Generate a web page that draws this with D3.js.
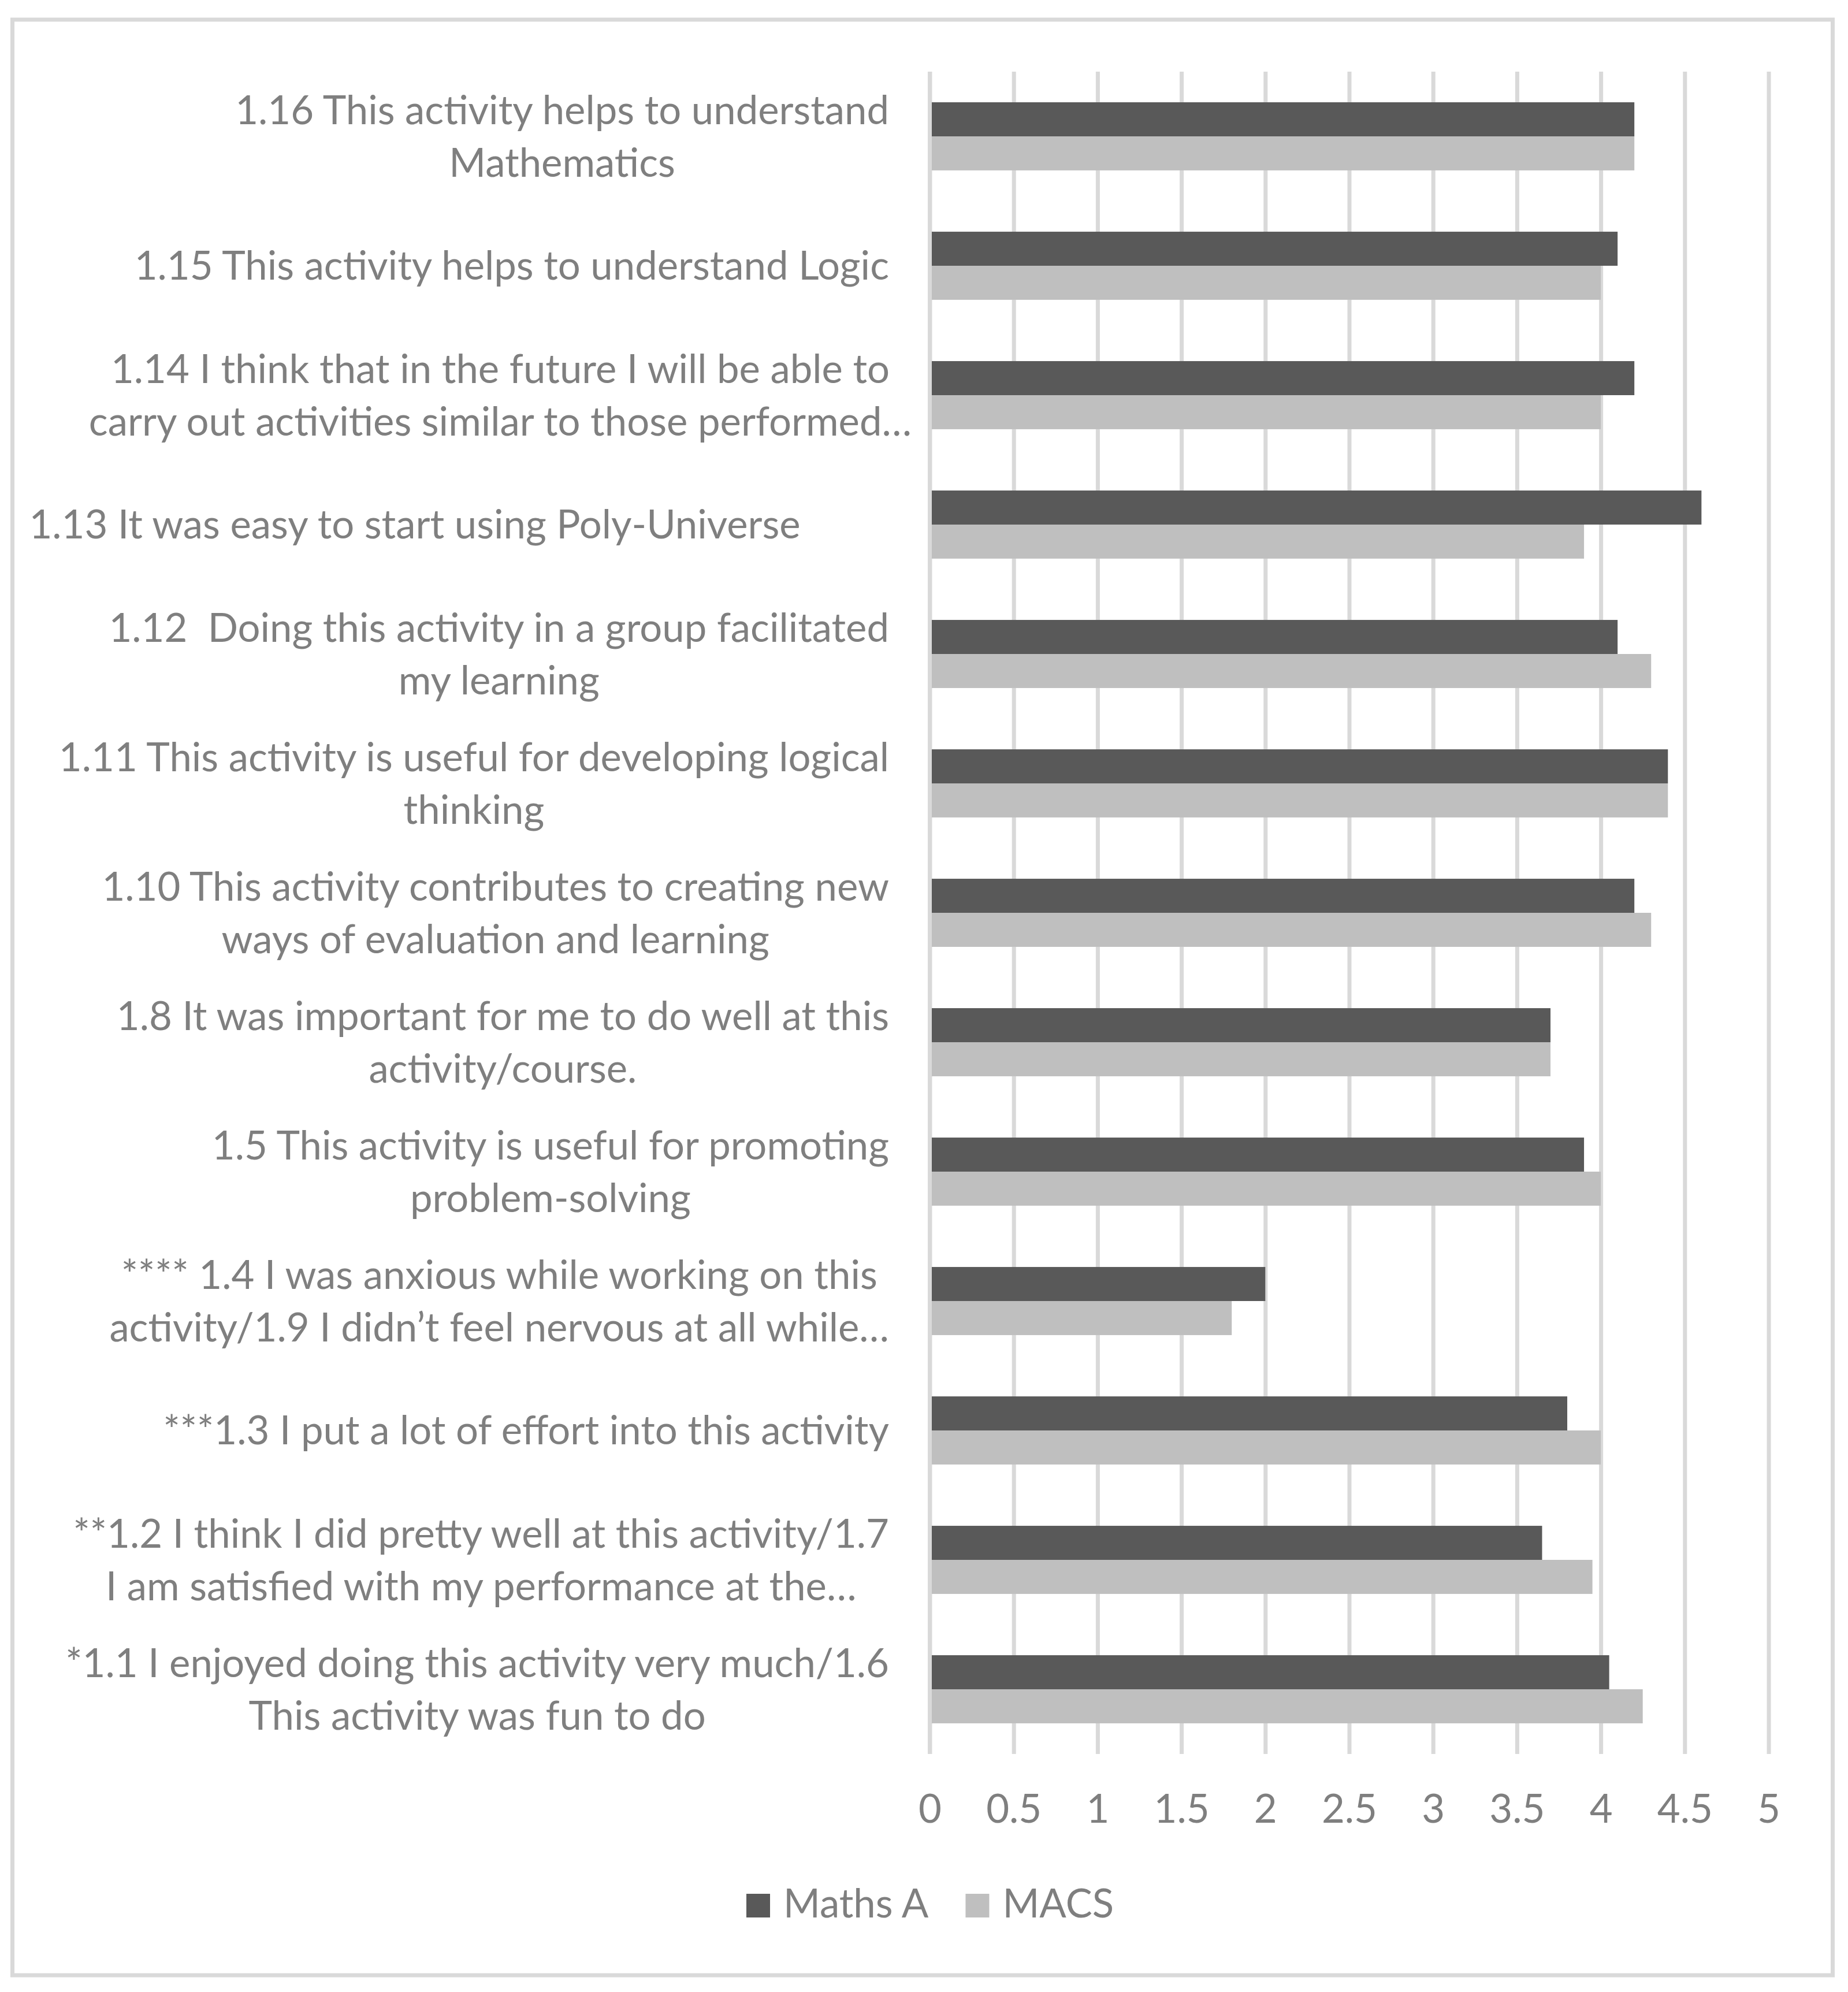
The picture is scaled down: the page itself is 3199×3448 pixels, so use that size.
<!DOCTYPE html>
<html>
<head>
<meta charset="utf-8">
<script src="https://cdn.jsdelivr.net/npm/d3@7"></script>
<style>
  body { margin: 0; background: #ffffff; }
  text { white-space: pre; }
</style>
</head>
<body>
<svg id="chart" width="3199" height="3448"></svg>
<script>
// ---------------- DATA ----------------
const categories = ["1.16", "1.15", "1.14", "1.13", "1.12", "1.11", "1.10", "1.8", "1.5", "1.4", "1.3", "1.2", "1.1"];
const categoryLabels = [
  ["1.16 This activity helps to understand", "Mathematics"],
  ["1.15 This activity helps to understand Logic"],
  ["1.14 I think that in the future I will be able to", "carry out activities similar to those performed…"],
  ["1.13 It was easy to start using Poly-Universe"],
  ["1.12  Doing this activity in a group facilitated", "my learning"],
  ["1.11 This activity is useful for developing logical", "thinking"],
  ["1.10 This activity contributes to creating new", "ways of evaluation and learning"],
  ["1.8 It was important for me to do well at this", "activity/course."],
  ["1.5 This activity is useful for promoting", "problem-solving"],
  ["**** 1.4 I was anxious while working on this", "activity/1.9 I didn’t feel nervous at all while…"],
  ["***1.3 I put a lot of effort into this activity"],
  ["**1.2 I think I did pretty well at this activity/1.7", "I am satisfied with my performance at the…"],
  ["*1.1 I enjoyed doing this activity very much/1.6", "This activity was fun to do"]
];
const seriesNames = ["Maths A", "MACS"];
const mathsA = [4.2, 4.1, 4.2, 4.6, 4.1, 4.4, 4.2, 3.7, 3.9, 2.0, 3.8, 3.65, 4.05];
const macs   = [4.2, 4.0, 4.0, 3.9, 4.3, 4.4, 4.3, 3.7, 4.0, 1.8, 4.0, 3.95, 4.25];
const xTicks = [0, 0.5, 1, 1.5, 2, 2.5, 3, 3.5, 4, 4.5, 5];
const xTickLabels = ["0", "0.5", "1", "1.5", "2", "2.5", "3", "3.5", "4", "4.5", "5"];

// ---------------- STYLE / LAYOUT ----------------
const COLORS = { "Maths A": "#595959", "MACS": "#bfbfbf" };
const GRID = "#d9d9d9";
const TEXT = "#7f7f7f";
const FONT = "Lato, 'Open Sans', 'DejaVu Sans', sans-serif";
const plot = { left: 1609.5, right: 3061.5, top: 124, bottom: 3036 };
const labelRight = 1539;
const labelCenterOverride = { "1.13": 718, "1.14": 866 };

const svg = d3.select("#chart");

// font size calibrated to reference text width
const probe = svg.append("text").attr("font-family", FONT).attr("font-size", 100)
  .text("1.16 This activity helps to understand");
const probeW = probe.node().getComputedTextLength();
probe.remove();
const FS = 100 * 1132 / probeW;
const LINE_H = 91;

// border
svg.append("rect")
  .attr("x", 21.5).attr("y", 34).attr("width", 3151).attr("height", 3385)
  .attr("fill", "#ffffff").attr("stroke", GRID).attr("stroke-width", 7);

// scales
const x = d3.scaleLinear().domain([0, 5]).range([plot.left, plot.right]);
const gap = 0.9;
const y = d3.scaleBand().domain(categories).range([plot.top, plot.bottom])
  .paddingInner(gap / (1 + gap)).paddingOuter(gap / (1 + gap) / 2);
const yInner = d3.scaleBand().domain(seriesNames).range([0, y.bandwidth()]);

// x axis with gridlines
const xAxis = d3.axisBottom(x)
  .tickValues(xTicks)
  .tickFormat((d, i) => xTickLabels[i])
  .tickSize(-(plot.bottom - plot.top))
  .tickPadding(0);
const gx = svg.append("g").attr("transform", `translate(0,${plot.bottom})`).call(xAxis);
gx.select(".domain").remove();
gx.selectAll(".tick line").attr("stroke", GRID).attr("stroke-width", 7);
gx.selectAll(".tick text")
  .attr("y", 3155 - plot.bottom).attr("dy", 0)
  .attr("fill", TEXT).attr("font-family", FONT).attr("font-size", FS);

// bars
const rows = categories.map((c, i) => ({ cat: c, values: [mathsA[i], macs[i]] }));
const gBars = svg.append("g");
rows.forEach(r => {
  seriesNames.forEach((s, j) => {
    gBars.append("rect")
      .attr("x", x(0))
      .attr("y", y(r.cat) + yInner(s))
      .attr("width", x(r.values[j]) - x(0))
      .attr("height", yInner.bandwidth())
      .attr("fill", COLORS[s]);
  });
});
// zero line over the bars
svg.append("line")
  .attr("x1", x(0)).attr("x2", x(0)).attr("y1", plot.top).attr("y2", plot.bottom)
  .attr("stroke", GRID).attr("stroke-width", 7);

// category labels
const gLab = svg.append("g").attr("fill", TEXT).attr("font-family", FONT).attr("font-size", FS);
categories.forEach((c, i) => {
  const lines = categoryLabels[i];
  const texts = lines.map(l => gLab.append("text").attr("text-anchor", "middle").text(l));
  const maxW = d3.max(texts, t => t.node().getComputedTextLength());
  const cx = labelCenterOverride[c] !== undefined ? labelCenterOverride[c] : labelRight - maxW / 2;
  const cy = y(c) + y.bandwidth() / 2;
  const n = lines.length;
  texts.forEach((t, k) => {
    t.attr("x", cx).attr("y", cy + 24 + (k - (n - 1) / 2) * LINE_H);
  });
});

// legend
const gLeg = svg.append("g").attr("font-family", FONT).attr("font-size", FS);
const sq = 41, sqGap = 23, entryGap = 64, legBase = 3319, legCenter = 1610;
const items = seriesNames.map(s => {
  const g = gLeg.append("g");
  g.append("rect").attr("width", sq).attr("height", sq).attr("y", legBase - sq).attr("fill", COLORS[s]);
  const t = g.append("text").attr("x", sq + sqGap).attr("y", legBase).attr("fill", TEXT).text(s);
  return { g, w: sq + sqGap + t.node().getComputedTextLength() };
});
const totalW = d3.sum(items, d => d.w) + entryGap * (items.length - 1);
let cur = legCenter - totalW / 2;
items.forEach(it => { it.g.attr("transform", `translate(${cur},0)`); cur += it.w + entryGap; });
</script>
</body>
</html>
